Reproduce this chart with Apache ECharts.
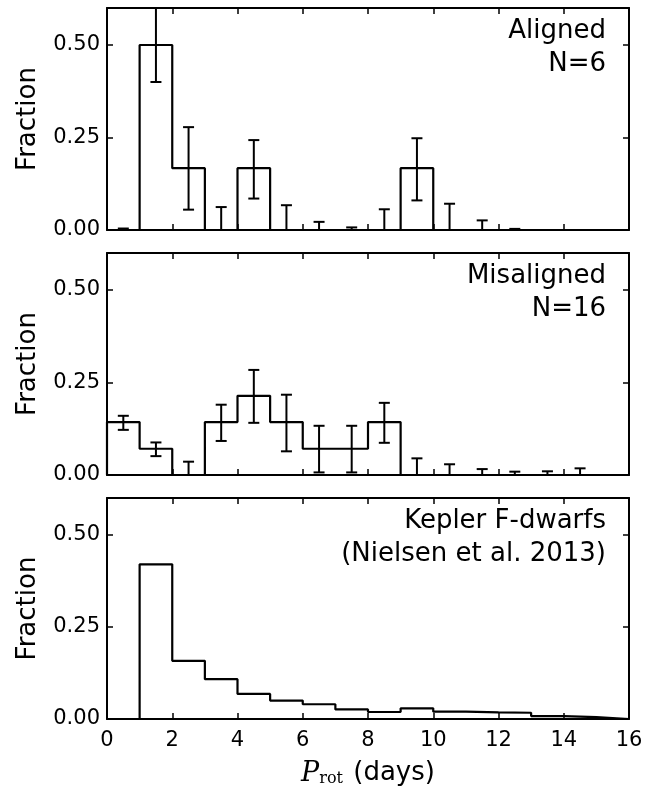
<!DOCTYPE html>
<html>
<head>
<meta charset="utf-8">
<script src="https://cdn.jsdelivr.net/npm/echarts@6/dist/echarts.min.js"></script>
<style>
  html, body { margin: 0; padding: 0; background: #fff; }
  #chart { width: 665px; height: 788px; }
</style>
</head>
<body>
<div id="chart"></div>
<script>
// bin edges (days) and x ticks
const binEdges = [0, 1, 2, 3, 4, 5, 6, 7, 8, 9, 10, 11, 12, 13, 14, 15, 16];

// Aligned, N=6
const alignedFrac = [0, 0.5, 0.167, 0, 0.167, 0, 0, 0, 0, 0.167, 0, 0, 0, 0, 0, 0];
const alignedErrX = [0.5, 1.5, 2.5, 3.5, 4.5, 5.5, 6.5, 7.5, 8.5, 9.5, 10.5, 11.5, 12.5];
const alignedErrLo = [0, 0.40, 0.055, 0, 0.085, 0, 0, 0, 0, 0.080, 0, 0, 0];
const alignedErrHi = [0.004, 0.65, 0.278, 0.062, 0.243, 0.067, 0.022, 0.007, 0.056, 0.248, 0.071, 0.026, 0.003];

// Misaligned, N=16
const misFrac = [0.143, 0.071, 0, 0.143, 0.214, 0.143, 0.071, 0.071, 0.143, 0, 0, 0, 0, 0, 0, 0];
const misErrX = [0.5, 1.5, 2.5, 3.5, 4.5, 5.5, 6.5, 7.5, 8.5, 9.5, 10.5, 11.5, 12.5, 13.5, 14.5];
const misErrLo = [0.122, 0.051, 0, 0.092, 0.141, 0.064, 0.007, 0.007, 0.087, 0, 0, 0, 0, 0, 0];
const misErrHi = [0.160, 0.088, 0.036, 0.190, 0.284, 0.217, 0.133, 0.133, 0.195, 0.045, 0.029, 0.016, 0.009, 0.010, 0.018];

// Kepler F-dwarfs (Nielsen et al. 2013)
const keplerFrac = [0, 0.42, 0.158, 0.108, 0.068, 0.05, 0.04, 0.026, 0.019, 0.029, 0.02, 0.018, 0.017, 0.008, 0.005, 0];

const panelLabels = ['Aligned\nN=6', 'Misaligned\nN=16', 'Kepler F-dwarfs\n(Nielsen et al. 2013)'];

const FONT = 'DejaVu Sans';
const gridTops = [8, 253, 498];
const gridH = 222;
const gridL = 107;
const gridW = 522;

function stepOutline(edges, fracs) {
    const pts = [[edges[0], 0]];
    fracs.forEach((f, i) => {
        pts.push([edges[i], f], [edges[i + 1], f]);
    });
    pts.push([edges[edges.length - 1], 0]);
    return pts;
}

function errData(xs, lo, hi) {
    return xs.map((x, i) => [x, lo[i], hi[i]]);
}

function renderErr(params, api) {
    const x = api.value(0);
    const a = api.coord([x, api.value(1)]);
    const b = api.coord([x, api.value(2)]);
    const w = 5.5;
    const st = { stroke: '#000', lineWidth: 2 };
    return {
        type: 'group',
        children: [
            { type: 'line', shape: { x1: a[0], y1: a[1], x2: b[0], y2: b[1] }, style: st },
            { type: 'line', shape: { x1: a[0] - w, y1: a[1], x2: a[0] + w, y2: a[1] }, style: st },
            { type: 'line', shape: { x1: b[0] - w, y1: b[1], x2: b[0] + w, y2: b[1] }, style: st }
        ]
    };
}

const grids = [], xAxes = [], yAxes = [], series = [], graphics = [];
const axisLine = { show: true, onZero: false, lineStyle: { color: '#000', width: 2 } };
const axisTick = { show: true, inside: true, length: 6, lineStyle: { color: '#000', width: 1.5 } };

gridTops.forEach((top, i) => {
    grids.push({ left: gridL, top: top, width: gridW, height: gridH });
    const xBase = {
        gridIndex: i, type: 'value', min: 0, max: 16, interval: 2,
        axisLine: axisLine, axisTick: axisTick, splitLine: { show: false }
    };
    xAxes.push(Object.assign({}, xBase, {
        position: 'bottom',
        axisLabel: { show: i === 2, color: '#000', fontFamily: FONT, fontSize: 21, margin: 11 },
        name: i === 2 ? '{p|P}{s|rot} (days)' : '',
        nameLocation: 'middle',
        nameGap: 41,
        nameTextStyle: {
            color: '#000', fontFamily: FONT, fontSize: 26,
            rich: {
                p: { fontFamily: 'DejaVu Serif', fontStyle: 'italic', fontSize: 27, color: '#000' },
                s: { fontFamily: 'DejaVu Serif', fontSize: 16, color: '#000', verticalAlign: 'bottom', padding: [0, 2, 0, 0] }
            }
        }
    }));
    xAxes.push(Object.assign({}, xBase, { position: 'top', axisLabel: { show: false } }));
    const yBase = {
        gridIndex: i, type: 'value', min: 0, max: 0.6, interval: 0.25,
        axisLine: axisLine, axisTick: axisTick, splitLine: { show: false }
    };
    yAxes.push(Object.assign({}, yBase, {
        position: 'left',
        axisLabel: {
            color: '#000', fontFamily: FONT, fontSize: 21, margin: 7, showMaxLabel: false,
            formatter: v => v.toFixed(2)
        },
        name: 'Fraction',
        nameLocation: 'middle',
        nameGap: 66,
        nameTextStyle: { color: '#000', fontFamily: FONT, fontSize: 26 }
    }));
    yAxes.push(Object.assign({}, yBase, { position: 'right', axisLabel: { show: false } }));

    graphics.push({
        type: 'text',
        x: 606,
        y: top + 7,
        style: {
            text: panelLabels[i], fill: '#000', fontFamily: FONT, fontSize: 26,
            lineHeight: 33, align: 'right', textAlign: 'right', verticalAlign: 'top'
        }
    });
});

const fracs = [alignedFrac, misFrac, keplerFrac];
fracs.forEach((f, i) => {
    series.push({
        type: 'line', xAxisIndex: i * 2, yAxisIndex: i * 2,
        data: stepOutline(binEdges, f), showSymbol: false, symbol: 'none',
        lineStyle: { color: '#000', width: 2.2 }, silent: true, z: 3
    });
});
series.push({
    type: 'custom', xAxisIndex: 0, yAxisIndex: 0, clip: true,
    data: errData(alignedErrX, alignedErrLo, alignedErrHi), renderItem: renderErr, z: 4
});
series.push({
    type: 'custom', xAxisIndex: 2, yAxisIndex: 2, clip: true,
    data: errData(misErrX, misErrLo, misErrHi), renderItem: renderErr, z: 4
});

const chart = echarts.init(document.getElementById('chart'));
chart.setOption({
    animation: false,
    backgroundColor: '#fff',
    grid: grids,
    xAxis: xAxes,
    yAxis: yAxes,
    series: series,
    graphic: graphics
});
</script>
</body>
</html>
